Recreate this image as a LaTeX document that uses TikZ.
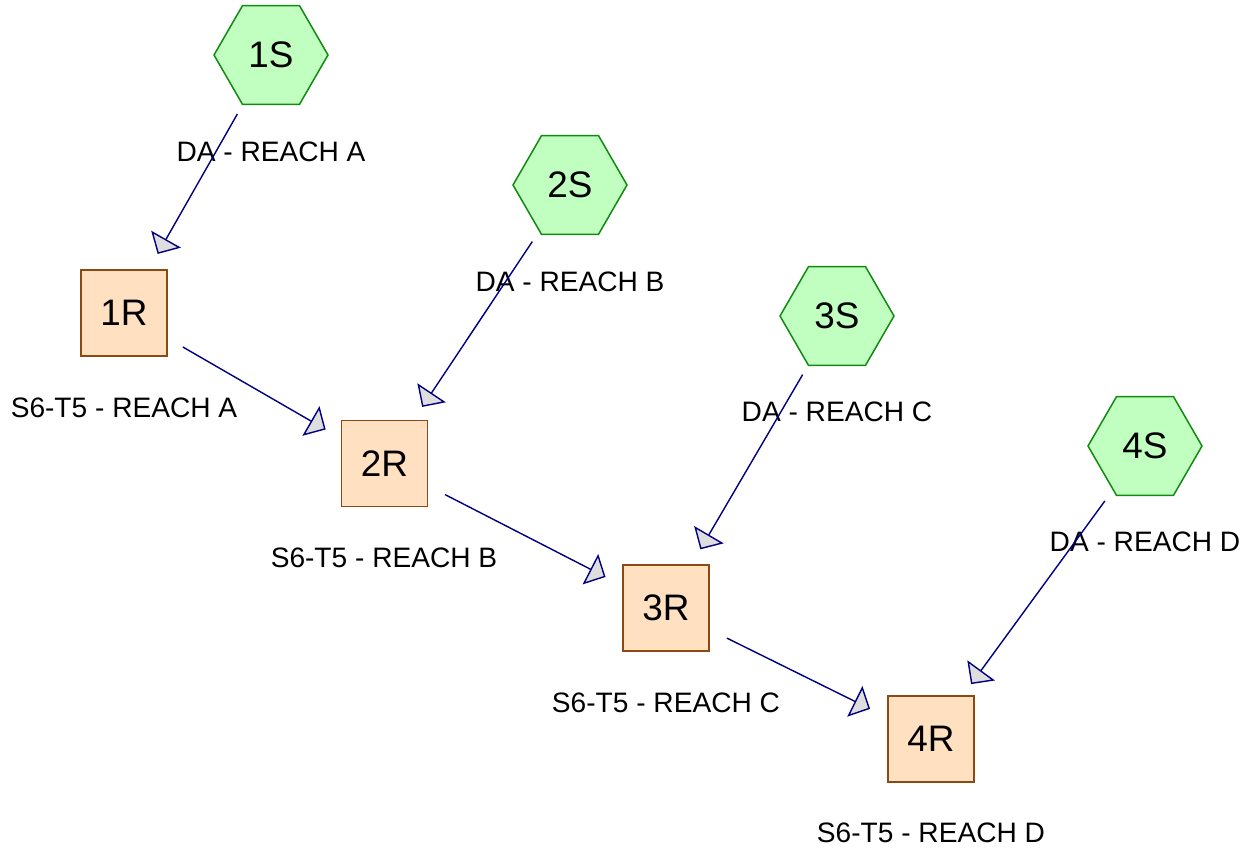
\documentclass[tikz,border=0pt]{standalone}
\usepackage{fontspec}
\setmainfont{Liberation Sans}
\usetikzlibrary{shapes.geometric,arrows.meta}

\definecolor{srcfill}{HTML}{C0FFC0}
\definecolor{srcline}{HTML}{108A10}
\definecolor{reachfill}{HTML}{FFE0C0}
\definecolor{reachline}{HTML}{8B4A14}
\definecolor{flowline}{HTML}{000080}

\tikzset{
  source/.style={regular polygon, regular polygon sides=6, minimum size=2.28cm,
    inner sep=0pt, fill=srcfill, draw=srcline, line width=0.85pt,
    font=\fontsize{21}{25}\selectfont},
  reach/.style={rectangle, minimum size=1.72cm, inner sep=0pt,
    fill=reachfill, draw=reachline, line width=1.1pt,
    font=\fontsize{21}{25}\selectfont},
  tag/.style={inner sep=0pt, font=\fontsize{16}{19}\selectfont},
  flow/.style={draw=flowline, line width=0.8pt, shorten <=1.36cm, shorten >=1.36cm,
    -{Triangle[length=0.34cm, width=0.68cm, fill=black!13]}}
}

\begin{document}
\begin{tikzpicture}[x=0.02cm, y=-0.02cm]
    \useasboundingbox (0,0) rectangle (1252,851);

    % sources
    \node[source] (s1) at (271,55) {1S};
    \node[source] (s2) at (570,185) {2S};
    \node[source] (s3) at (837,316) {3S};
    \node[source] (s4) at (1145,446) {4S};
    \node[tag] (ts1) at (271,152) {DA - REACH A};
    \node[tag] (ts2) at (570,282) {DA - REACH B};
    \node[tag] (ts3) at (837,412) {DA - REACH C};
    \node[tag] (ts4) at (1145,542) {DA - REACH D};

    % reaches
    \node[reach] (r1) at (124,313) {1R};
    \node[reach] (r2) at (384.5,463.5) {2R};
    \node[reach] (r3) at (666,608) {3R};
    \node[reach] (r4) at (931,739) {4R};
    \node[tag] (tr1) at (124,408) {S6-T5 - REACH A};
    \node[tag] (tr2) at (384,558) {S6-T5 - REACH B};
    \node[tag] (tr3) at (666,703) {S6-T5 - REACH C};
    \node[tag] (tr4) at (931,833) {S6-T5 - REACH D};

    % links
    \draw[flow] (s1.center) -- (r1.center);
    \draw[flow] (s2.center) -- (r2.center);
    \draw[flow] (s3.center) -- (r3.center);
    \draw[flow] (s4.center) -- (r4.center);
    \draw[flow] (r1.center) -- (r2.center);
    \draw[flow] (r2.center) -- (r3.center);
    \draw[flow] (r3.center) -- (r4.center);
\end{tikzpicture}
\end{document}
